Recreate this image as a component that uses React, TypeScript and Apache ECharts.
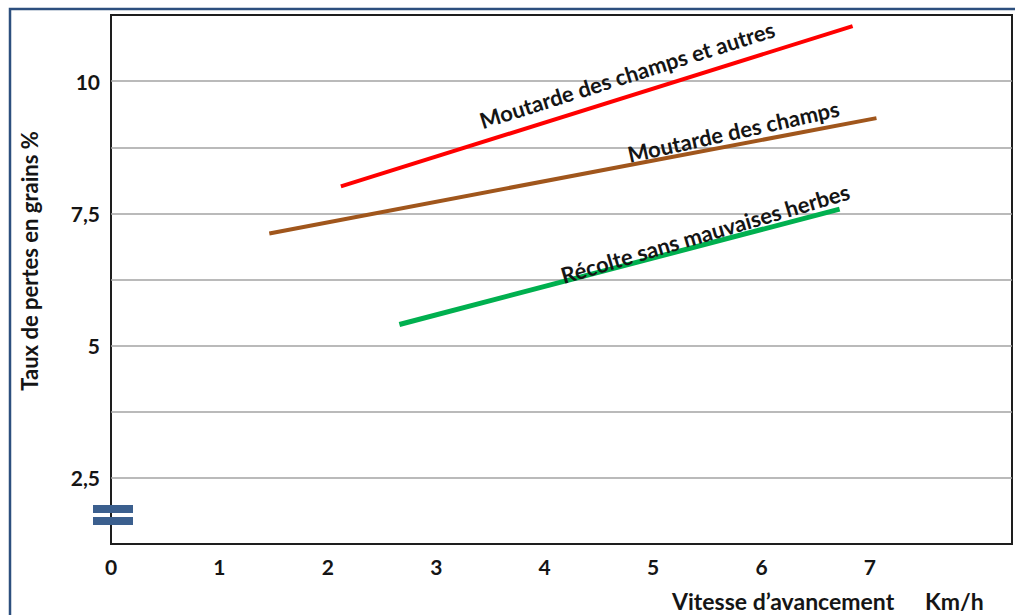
import React, { useEffect, useRef } from "react";
import * as echarts from "echarts";

// Vitesse d'avancement (km/h) -> taux de pertes (%)
const autresPoints: [number, number][] = [
  [2.12, 8.01],
  [6.84, 11.04],
];
const champsPoints: [number, number][] = [
  [1.46, 7.12],
  [7.06, 9.3],
];
const proprePoints: [number, number][] = [
  [2.66, 5.4],
  [6.72, 7.58],
];

const seriesNames = [
  "Moutarde des champs et autres",
  "Moutarde des champs",
  "Récolte sans mauvaises herbes",
];

const xTickLabels = [0, 1, 2, 3, 4, 5, 6, 7];
const yTickLabels = [2.5, 5, 7.5, 10];

const yTitle = "Taux de pertes en grains %";
const xTitle = "Vitesse d’avancement";
const xUnit = "Km/h";

const FONT = "Lato, 'Open Sans', sans-serif";
const INK = "#151515";

// line labels: position along the line (x), offset above it (px) and tilt (deg)
const lineLabels = [
  { points: autresPoints, at: 4.76, lift: 22, angle: 17.5 },
  { points: champsPoints, at: 5.74, lift: 14, angle: 12.5 },
  { points: proprePoints, at: 5.48, lift: 11, angle: 16.5 },
];

function pointOn(points: [number, number][], x: number): [number, number] {
  const [a, b] = points;
  const t = (x - a[0]) / (b[0] - a[0]);
  return [x, a[1] + t * (b[1] - a[1])];
}

function textEl(text: string, x: number, y: number, size: number, align: string, rotation = 0) {
  return {
    type: "text",
    x,
    y,
    rotation,
    z: 10,
    style: {
      text,
      font: `bold ${size}px ${FONT}`,
      fill: INK,
      textAlign: align,
      textVerticalAlign: "middle",
      align,
      verticalAlign: "middle",
    },
  };
}

export default function App() {
  const ref = useRef<HTMLDivElement>(null);

  useEffect(() => {
    if (!ref.current) return;
    const chart = echarts.init(ref.current, null, { renderer: "svg" });

    const lineSeries = (name: string, data: [number, number][], color: string, width: number) => ({
      type: "line",
      name,
      data,
      symbol: "none",
      lineStyle: { color, width, cap: "butt" },
      z: 3,
    });

    chart.setOption({
      animation: false,
      backgroundColor: "#ffffff",
      grid: {
        left: 111,
        top: 15,
        width: 906,
        height: 529,
        show: true,
        borderColor: "#1e1e1e",
        borderWidth: 2,
        backgroundColor: "transparent",
      },
      xAxis: {
        type: "value",
        min: 0,
        max: 8.31,
        interval: 1,
        axisLine: { show: false },
        axisTick: { show: false },
        splitLine: { show: false },
        axisLabel: {
          margin: 12,
          color: INK,
          fontFamily: FONT,
          fontWeight: "bold",
          fontSize: 21,
          formatter: (v: number) => (xTickLabels.includes(v) ? String(v) : ""),
        },
      },
      yAxis: {
        type: "value",
        min: 1.25,
        max: 11.25,
        interval: 1.25,
        axisLine: { show: false },
        axisTick: { show: false },
        splitLine: {
          show: true,
          showMinLine: false,
          showMaxLine: false,
          lineStyle: { color: "#a3a3a3", width: 1.5 },
        },
        axisLabel: {
          margin: 11,
          color: INK,
          fontFamily: FONT,
          fontWeight: "bold",
          fontSize: 21,
          formatter: (v: number) =>
            yTickLabels.some((t) => Math.abs(t - v) < 1e-6) ? String(v).replace(".", ",") : "",
        },
      },
      series: [
        lineSeries(seriesNames[0], autresPoints, "#ff0000", 4),
        lineSeries(seriesNames[1], champsPoints, "#a0561c", 4),
        lineSeries(seriesNames[2], proprePoints, "#00b04f", 5),
      ],
    });

    const labels = lineLabels.map((l, i) => {
      const p = chart.convertToPixel({ gridIndex: 0 }, pointOn(l.points, l.at)) as number[];
      return textEl(seriesNames[i], p[0], p[1] - l.lift, 22, "center", (l.angle * Math.PI) / 180);
    });

    chart.setOption({
      graphic: [
        {
          type: "rect",
          shape: { x: 10, y: 9, width: 1100, height: 700 },
          style: { fill: "none", stroke: "#2d4f7e", lineWidth: 2.5 },
          z: 1,
        },
        {
          type: "rect",
          shape: { x: 93, y: 505, width: 40, height: 8 },
          style: { fill: "#3b5f8e" },
          z: 10,
        },
        {
          type: "rect",
          shape: { x: 93, y: 517, width: 40, height: 8 },
          style: { fill: "#3b5f8e" },
          z: 10,
        },
        textEl(yTitle, 29, 261, 22, "center", Math.PI / 2),
        textEl(xTitle, 672, 601, 23, "left"),
        textEl(xUnit, 925, 601, 23, "left"),
        ...labels,
      ],
    });

    return () => chart.dispose();
  }, []);

  return (
    <div
      ref={ref}
      style={{ position: "absolute", left: 0, top: 0, width: 1015, height: 615, background: "#fff" }}
    />
  );
}
